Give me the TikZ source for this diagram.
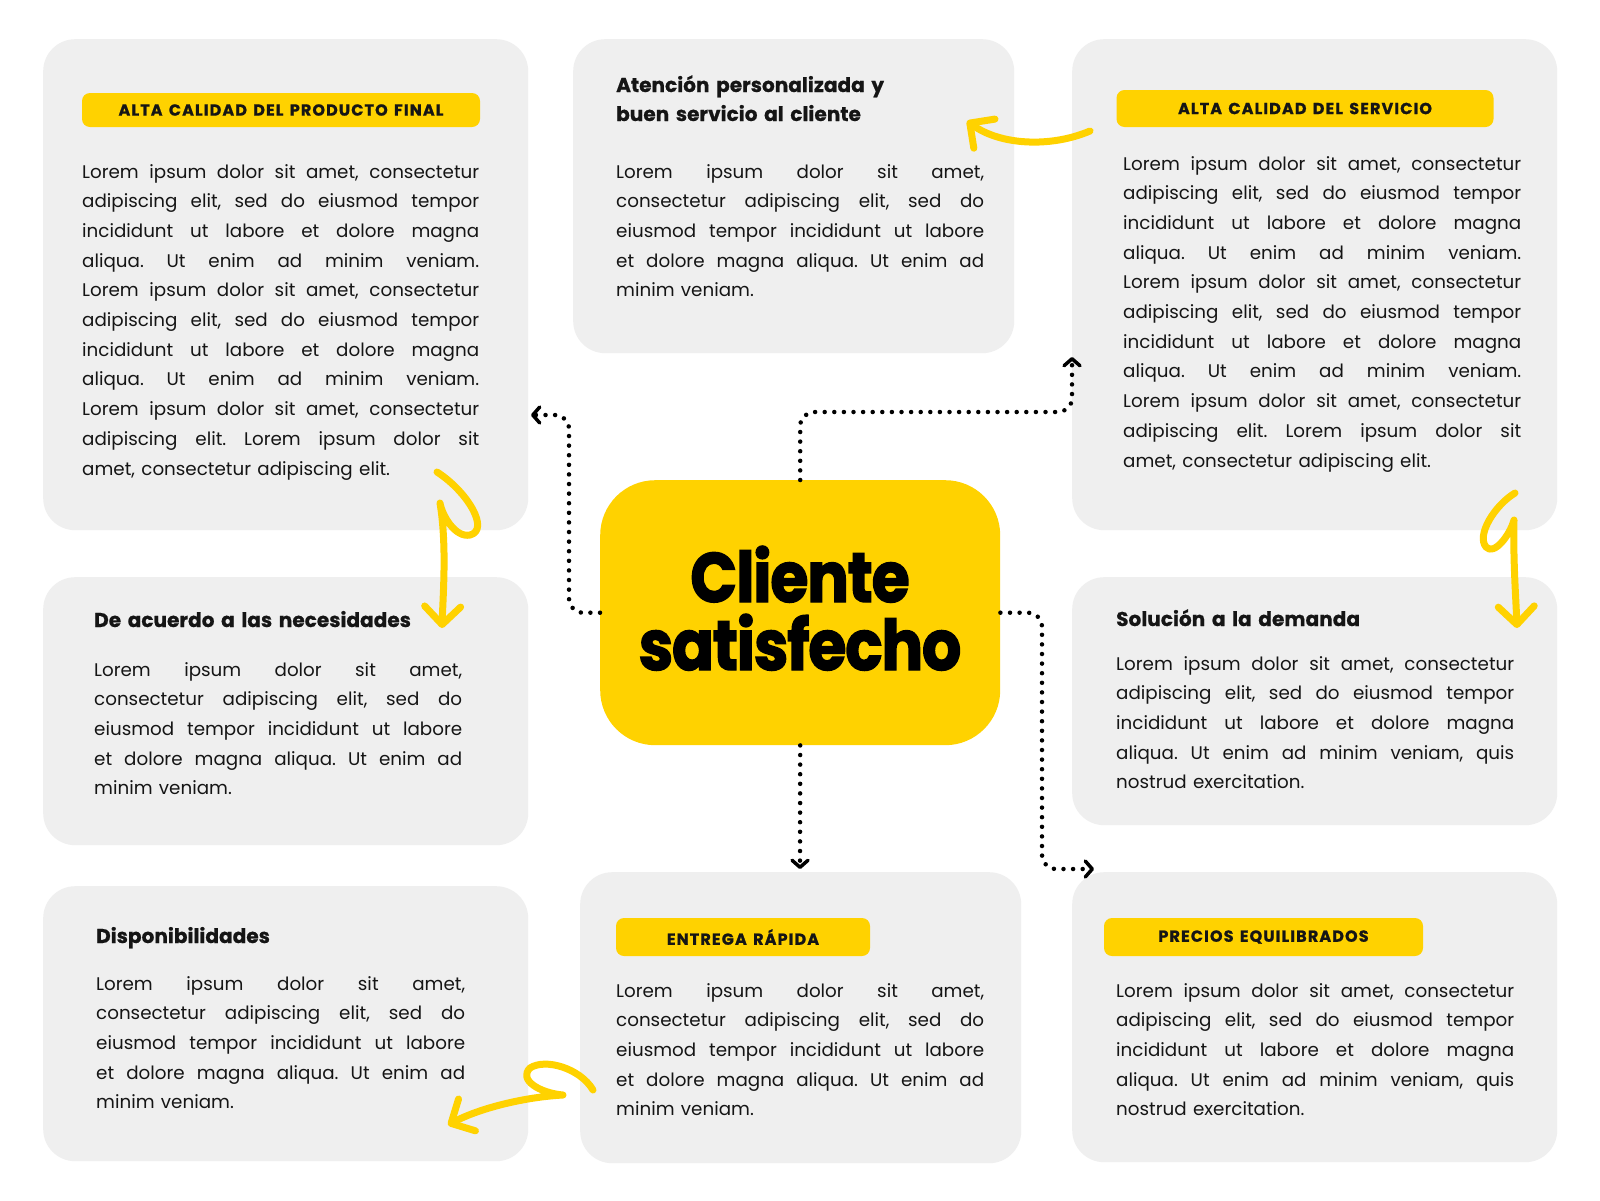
\documentclass[tikz,border=0pt]{standalone}
\usepackage{fontspec}
\setmainfont{Poppins}[WordSpace=1.3]
\newfontfamily\heavyfont{Poppins}[BoldFeatures={FakeBold=2, FakeStretch=0.88, LetterSpace=-1.5}]
\newfontfamily\pillfont{Poppins}[BoldFeatures={FakeBold=1, LetterSpace=7, WordSpace=1.4}]
\newfontfamily\ttlfont{Poppins}[BoldFeatures={FakeBold=0.8, LetterSpace=0.3, WordSpace=1.4}]
\usetikzlibrary{arrows.meta}
\definecolor{boxgray}{HTML}{EFEFEF}
\definecolor{ylw}{HTML}{FFD200}
\definecolor{ink}{HTML}{151515}
\newcommand\lb{\linebreak}
\tikzset{
  card/.style={fill=boxgray, rounded corners=32pt, draw=none, anchor=north west, inner sep=0pt},
  pill/.style={fill=ylw, rounded corners=8pt, inner sep=0pt, text=ink, font=\pillfont\bfseries\fontsize{16}{18}\selectfont},
  body/.style={anchor=base west, inner sep=0pt, align=justify, text=ink, font=\fontsize{18.3}{29.7}\selectfont},
  ttl/.style={anchor=base west, inner sep=0pt, align=left, text=ink, text width=360pt, font=\ttlfont\bfseries\fontsize{20}{29}\selectfont},
  dotline/.style={line width=4.5pt, dash pattern=on 0pt off 9.6pt, line cap=round, draw=black, rounded corners=14pt,
    -{Straight Barb[length=7pt, width=16pt, line width=3.5pt, round]}},
  swoosh/.style={line width=7pt, line cap=round, line join=round, draw=ylw,
    -{Straight Barb[length=18pt, width=36pt, line width=7pt, round]}},
}
\begin{document}
\frenchspacing
\begin{tikzpicture}[x=1pt, y=-1pt]
\useasboundingbox (0,0) rectangle (1600,1200);
\fill[white] (0,0) rectangle (1600,1200);

% cards
\node[card, minimum width=485pt, minimum height=491pt] (tl) at (43,39) {};
\node[card, minimum width=441pt, minimum height=314pt] (tm) at (573,39) {};
\node[card, minimum width=485pt, minimum height=491pt] (tr) at (1072,39) {};
\node[card, minimum width=485pt, minimum height=268pt] (ml) at (43,577) {};
\node[card, minimum width=485pt, minimum height=248pt] (mr) at (1072,577) {};
\node[card, minimum width=485pt, minimum height=275pt] (bl) at (43,886) {};
\node[card, minimum width=441pt, minimum height=291pt] (bm) at (580,872) {};
\node[card, minimum width=485pt, minimum height=290pt] (br) at (1072,872) {};

% centre
\node[fill=ylw, rounded corners=55pt, anchor=north west, inner sep=0pt, minimum width=400pt, minimum height=265pt] (c) at (600,480) {};
\node[anchor=base, inner sep=0pt, text width=400pt, align=center, text=black,
      font=\heavyfont\bfseries\fontsize{70}{68}\selectfont] (ctext) at (800,602) {Cliente\\satisfecho};

% pills
\node[pill, minimum width=398pt, minimum height=34pt] (p1) at (281,110) {ALTA CALIDAD DEL PRODUCTO FINAL};
\node[pill, minimum width=377pt, minimum height=37pt] (p2) at (1305,108.5) {ALTA CALIDAD DEL SERVICIO};
\node[pill, minimum width=254pt, minimum height=38pt] (p3) at (743,937) {ENTREGA RÁPIDA};
\node[pill, minimum width=319pt, minimum height=38pt] (p4) at (1263.5,937) {PRECIOS EQUILIBRADOS};

% titles
\node[ttl] (t1) at (616,92) {Atención personalizada y\\buen servicio al cliente};
\node[ttl] (t2) at (94,627) {De acuerdo a las necesidades};
\node[ttl] (t3) at (1116,626) {Solución a la demanda};
\node[ttl] (t4) at (96,943) {Disponibilidades};

% bodies
\node[body, text width=397pt] (b1) at (82,178) {Lorem ipsum dolor sit amet, consectetur\lb adipiscing elit, sed do eiusmod tempor\lb incididunt ut labore et dolore magna\lb aliqua. Ut enim ad minim veniam.\lb Lorem ipsum dolor sit amet, consectetur\lb adipiscing elit, sed do eiusmod tempor\lb incididunt ut labore et dolore magna\lb aliqua. Ut enim ad minim veniam.\lb Lorem ipsum dolor sit amet, consectetur\lb adipiscing elit. Lorem ipsum dolor sit\lb amet, consectetur adipiscing elit.};
\node[body, text width=368pt] (b2) at (616,178) {Lorem ipsum dolor sit amet,\lb consectetur adipiscing elit, sed do\lb eiusmod tempor incididunt ut labore\lb et dolore magna aliqua. Ut enim ad\lb minim veniam.};
\node[body, text width=398pt] (b3) at (1123,170) {Lorem ipsum dolor sit amet, consectetur\lb adipiscing elit, sed do eiusmod tempor\lb incididunt ut labore et dolore magna\lb aliqua. Ut enim ad minim veniam.\lb Lorem ipsum dolor sit amet, consectetur\lb adipiscing elit, sed do eiusmod tempor\lb incididunt ut labore et dolore magna\lb aliqua. Ut enim ad minim veniam.\lb Lorem ipsum dolor sit amet, consectetur\lb adipiscing elit. Lorem ipsum dolor sit\lb amet, consectetur adipiscing elit.};
\node[body, text width=368pt] (b4) at (94,676) {Lorem ipsum dolor sit amet,\lb consectetur adipiscing elit, sed do\lb eiusmod tempor incididunt ut labore\lb et dolore magna aliqua. Ut enim ad\lb minim veniam.};
\node[body, text width=398pt] (b5) at (1116,670) {Lorem ipsum dolor sit amet, consectetur\lb adipiscing elit, sed do eiusmod tempor\lb incididunt ut labore et dolore magna\lb aliqua. Ut enim ad minim veniam, quis\lb nostrud exercitation.};
\node[body, text width=369pt] (b6) at (96,990) {Lorem ipsum dolor sit amet,\lb consectetur adipiscing elit, sed do\lb eiusmod tempor incididunt ut labore\lb et dolore magna aliqua. Ut enim ad\lb minim veniam.};
\node[body, text width=368pt] (b7) at (616,997) {Lorem ipsum dolor sit amet,\lb consectetur adipiscing elit, sed do\lb eiusmod tempor incididunt ut labore\lb et dolore magna aliqua. Ut enim ad\lb minim veniam.};
\node[body, text width=398pt] (b8) at (1116,997) {Lorem ipsum dolor sit amet, consectetur\lb adipiscing elit, sed do eiusmod tempor\lb incididunt ut labore et dolore magna\lb aliqua. Ut enim ad minim veniam, quis\lb nostrud exercitation.};

% dotted connectors
\coordinate (tipL) at (531,415);
\coordinate (tipT) at (1072,357);
\coordinate (tipB) at (800,869);
\coordinate (tipR) at (1094,869);
\draw[dotline] (c.west) -| (569,415) -- (tipL);
\draw[dotline] (c.north) |- (1072,412) -- (tipT);
\draw[dotline] (c.east) -| (1042,869) -- (tipR);
\draw[dotline] (c.south) -- (tipB);

% yellow hand-drawn arrows
\coordinate (aS) at (1090,131); \coordinate (aE) at (967,121);
\draw[swoosh] (aS) .. controls (1050,148) and (1000,145) .. (aE);
\coordinate (bS) at (437,472); \coordinate (bE) at (442,628);
\draw[swoosh] (bS) .. controls (468,492) and (490,530) .. (470,535) .. controls (455,538) and (442,515) .. (440,503) .. controls (447,545) and (443,595) .. (bE);
\coordinate (cS) at (1515,493); \coordinate (cE) at (1517,628);
\draw[swoosh] (cS) .. controls (1495,505) and (1476,535) .. (1486,547) .. controls (1494,556) and (1510,535) .. (1514,520) .. controls (1513,560) and (1516,600) .. (cE);
\coordinate (dS) at (593,1090); \coordinate (dE) at (448,1125);
\draw[swoosh] (dS) .. controls (580,1068) and (545,1058) .. (530,1068) .. controls (518,1080) and (540,1093) .. (563,1095) .. controls (525,1097) and (480,1108) .. (dE);
\end{tikzpicture}
\end{document}
